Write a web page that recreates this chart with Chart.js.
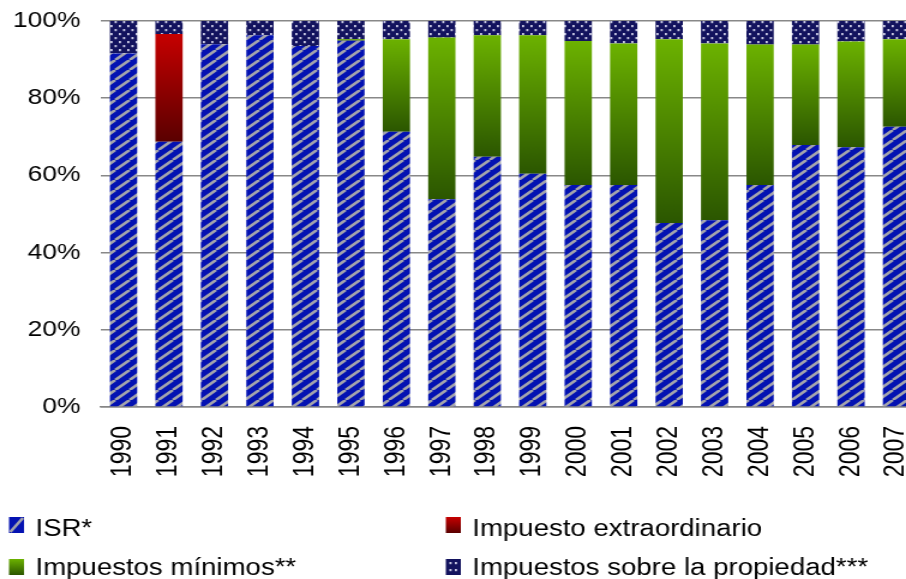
<!DOCTYPE html>
<html>
<head>
<meta charset="utf-8">
<script src="https://cdn.jsdelivr.net/npm/chart.js@4/dist/chart.umd.min.js"></script>
<style>
  html, body { margin: 0; padding: 0; background: #fff; width: 906px; height: 579px; overflow: hidden; }
  #wrap { width: 766px; height: 579px; transform: scaleX(1.2); transform-origin: 0 0; }
  #chart { display: block; width: 766px; height: 579px; }
</style>
</head>
<body>
<div id="wrap"><canvas id="chart" width="766" height="579"></canvas></div>
<script>
// Share of each tax in total collections, by year (percent)
const years = ['1990', '1991', '1992', '1993', '1994', '1995', '1996', '1997', '1998',
               '1999', '2000', '2001', '2002', '2003', '2004', '2005', '2006', '2007'];
const isr            = [91.6, 68.7, 94.0, 96.3, 93.5, 94.9, 71.3, 53.8, 64.8, 60.4, 57.5, 57.5, 47.7, 48.4, 57.5, 67.9, 67.3, 72.6];
const extraordinario = [0, 27.9, 0, 0, 0, 0, 0, 0, 0, 0, 0, 0, 0, 0, 0, 0, 0, 0];
const minimos        = [0, 0, 0, 0, 0, 0.4, 24.0, 41.9, 31.5, 35.9, 37.3, 36.7, 47.6, 45.8, 36.4, 26.0, 27.4, 22.7];
const propiedad      = [8.4, 3.4, 6.0, 3.7, 6.5, 4.7, 4.7, 4.3, 3.7, 3.7, 5.2, 5.8, 4.7, 5.8, 6.1, 6.1, 5.3, 4.7];
const seriesNames = ['ISR*', 'Impuesto extraordinario', 'Impuestos mínimos**', 'Impuestos sobre la propiedad***'];
const yTicks = [0, 20, 40, 60, 80, 100];

const BLUE = '#0412b2';
const STRIPE = '#a4a4ac';
const NAVY = '#13135e';
const DOT = '#cacae4';
const RED_TOP = '#c60000', RED_BOTTOM = '#5a0000';
const GREEN_TOP = '#6cb200', GREEN_BOTTOM = '#2b5600';
const FONT = '"Liberation Sans", Arial, sans-serif';

const canvas = document.getElementById('chart');
const ctx = canvas.getContext('2d');

// Blue fill with light diagonal stripes
function stripePattern() {
  const w = 12, h = 10;
  const c = document.createElement('canvas');
  c.width = w; c.height = h;
  const g = c.getContext('2d');
  g.fillStyle = BLUE;
  g.fillRect(0, 0, w, h);
  g.strokeStyle = STRIPE;
  g.lineWidth = 2.6;
  for (const dx of [-w, 0, w]) {
    g.beginPath();
    g.moveTo(dx, h);
    g.lineTo(dx + w, 0);
    g.stroke();
  }
  return ctx.createPattern(c, 'repeat');
}

// Navy fill with small light dots
function dotPattern() {
  const w = 7, h = 8;
  const c = document.createElement('canvas');
  c.width = w; c.height = h;
  const g = c.getContext('2d');
  g.fillStyle = NAVY;
  g.fillRect(0, 0, w, h);
  g.fillStyle = DOT;
  g.fillRect(1, 1, 1.8, 2.2);
  g.fillRect(4.5, 5, 1.8, 2.2);
  return ctx.createPattern(c, 'repeat');
}

// Vertical gradient spanning each stacked segment
function segmentGradient(top, bottom) {
  return (context) => {
    const chart = context.chart;
    if (!chart.chartArea || context.type !== 'data' || !chart.scales.y) return top;
    const i = context.dataIndex, d = context.datasetIndex;
    let start = 0;
    for (let k = 0; k < d; k++) start += chart.data.datasets[k].data[i];
    const end = start + chart.data.datasets[d].data[i];
    const y = chart.scales.y;
    const y0 = y.getPixelForValue(end), y1 = y.getPixelForValue(start);
    if (Math.abs(y1 - y0) < 0.5) return top;
    const grad = chart.ctx.createLinearGradient(0, y0, 0, y1);
    grad.addColorStop(0, top);
    grad.addColorStop(1, bottom);
    return grad;
  };
}

const stripes = stripePattern();
const dots = dotPattern();

// Two-column legend below the category labels
const legendPlugin = {
  id: 'gridLegend',
  afterDraw(chart) {
    const c = chart.ctx;
    const cols = [7.5, 371.5];
    const textCols = [29.5, 393.5];
    const rows = [517, 559];
    const baselines = [536, 575];
    const sw = 12.5, sh = 16;
    c.save();
    c.font = '23px ' + FONT;
    c.fillStyle = '#000';
    c.textBaseline = 'alphabetic';
    chart.data.datasets.forEach((ds, i) => {
      const col = i % 2, row = Math.floor(i / 2);
      const x = cols[col], y = rows[row];
      if (i === 0) {
        c.fillStyle = BLUE;
        c.fillRect(x, y, sw, sh);
        c.save();
        c.beginPath(); c.rect(x, y, sw, sh); c.clip();
        c.strokeStyle = STRIPE; c.lineWidth = 2.5;
        c.beginPath(); c.moveTo(x + 1, y + sh - 1); c.lineTo(x + sw - 1, y + 1); c.stroke();
        c.restore();
      } else if (i === 1 || i === 2) {
        const g = c.createLinearGradient(0, y, 0, y + sh);
        g.addColorStop(0, i === 1 ? RED_TOP : GREEN_TOP);
        g.addColorStop(1, i === 1 ? RED_BOTTOM : GREEN_BOTTOM);
        c.fillStyle = g;
        c.fillRect(x, y, sw, sh);
      } else {
        c.fillStyle = NAVY;
        c.fillRect(x, y, sw, sh);
        c.fillStyle = DOT;
        c.fillRect(x + 3, y + 3, 1.8, 2.2);
        c.fillRect(x + 7.5, y + 3, 1.8, 2.2);
        c.fillRect(x + 3, y + 10, 1.8, 2.2);
        c.fillRect(x + 7.5, y + 10, 1.8, 2.2);
      }
      c.fillStyle = '#000';
      c.fillText(ds.label, textCols[col], baselines[row]);
    });
    c.restore();
  }
};

new Chart(canvas, {
  type: 'bar',
  data: {
    labels: years,
    datasets: [
      { label: seriesNames[0], data: isr, backgroundColor: stripes },
      { label: seriesNames[1], data: extraordinario, backgroundColor: segmentGradient(RED_TOP, RED_BOTTOM) },
      { label: seriesNames[2], data: minimos, backgroundColor: segmentGradient(GREEN_TOP, GREEN_BOTTOM) },
      { label: seriesNames[3], data: propiedad, backgroundColor: dots }
    ]
  },
  options: {
    responsive: false,
    animation: false,
    devicePixelRatio: 1,
    layout: { padding: { top: 21, left: 0, right: 0, bottom: 0 } },
    datasets: { bar: { barPercentage: 0.6, categoryPercentage: 1.0, borderWidth: 0 } },
    plugins: {
      legend: { display: false },
      tooltip: { enabled: false }
    },
    scales: {
      x: {
        stacked: true,
        grid: { display: false, drawTicks: false },
        border: { display: true, color: '#868686', width: 1.5 },
        ticks: {
          autoSkip: false,
          minRotation: 90,
          maxRotation: 90,
          padding: 19,
          color: '#000',
          font: { family: FONT, size: 23 }
        },
        afterFit(scale) {
          scale.height = 172;
          scale.paddingLeft = 0;
          scale.paddingRight = 0;
        }
      },
      y: {
        stacked: true,
        min: 0,
        max: 100,
        afterBuildTicks(scale) { scale.ticks = yTicks.map(v => ({ value: v })); },
        grid: { color: '#888888', lineWidth: 1.6, drawTicks: false },
        border: { display: false },
        ticks: {
          padding: 17,
          color: '#000',
          font: { family: FONT, size: 22 },
          callback: (v) => v + '%'
        },
        afterFit(scale) {
          scale.width = 84;
          scale.paddingTop = 0;
          scale.paddingBottom = 0;
        }
      }
    }
  },
  plugins: [legendPlugin]
});
</script>
</body>
</html>
